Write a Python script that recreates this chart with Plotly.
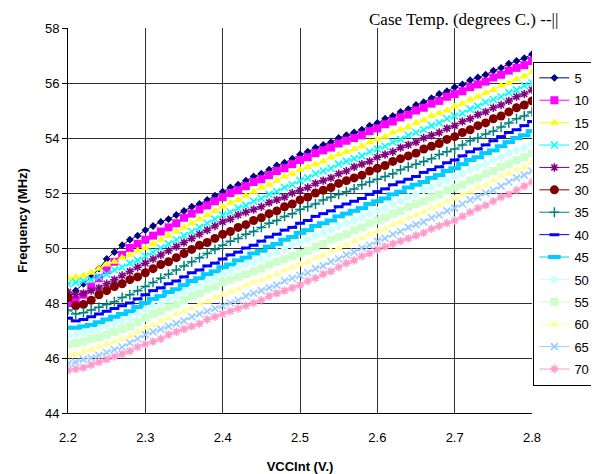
import plotly.graph_objects as go

vcc = [round(2.2 + 0.01 * i, 2) for i in range(61)]

temps = ["5", "10", "15", "20", "25", "30", "35", "40", "45", "50", "55", "60", "65", "70"]

f05 = [48.2, 48.45, 48.7, 48.95, 49.25, 49.6, 49.85, 50.1, 50.3, 50.45, 50.65,
       50.8, 50.95, 51.05, 51.2, 51.35, 51.5, 51.6, 51.75, 51.9, 52.05,
       52.2, 52.3, 52.45, 52.6, 52.7, 52.85, 53.0, 53.1, 53.25, 53.4,
       53.5, 53.65, 53.75, 53.85, 54.0, 54.1, 54.2, 54.3, 54.45, 54.55,
       54.7, 54.8, 54.95, 55.05, 55.2, 55.3, 55.45, 55.6, 55.7, 55.85,
       55.95, 56.1, 56.2, 56.3, 56.45, 56.55, 56.7, 56.8, 56.9, 57.05]
f10 = [48.0, 48.1, 48.3, 48.6, 48.9, 49.2, 49.5, 49.75, 50.0, 50.15, 50.3,
       50.45, 50.6, 50.75, 50.9, 51.1, 51.25, 51.4, 51.55, 51.7, 51.85,
       52.0, 52.1, 52.25, 52.4, 52.5, 52.65, 52.8, 52.9, 53.05, 53.2,
       53.3, 53.45, 53.55, 53.65, 53.8, 53.9, 54.0, 54.1, 54.25, 54.35,
       54.5, 54.6, 54.75, 54.85, 55.0, 55.1, 55.25, 55.35, 55.5, 55.6,
       55.7, 55.85, 55.95, 56.05, 56.2, 56.3, 56.45, 56.55, 56.65, 56.8]
f15 = [48.9, 48.95, 49.0, 49.1, 49.25, 49.4, 49.5, 49.65, 49.75, 49.9, 50.0,
       50.15, 50.3, 50.45, 50.6, 50.75, 50.9, 51.05, 51.2, 51.35, 51.5,
       51.65, 51.75, 51.9, 52.05, 52.2, 52.3, 52.45, 52.6, 52.7, 52.85,
       52.95, 53.05, 53.15, 53.3, 53.4, 53.5, 53.6, 53.7, 53.85, 53.95,
       54.05, 54.2, 54.3, 54.4, 54.55, 54.65, 54.8, 54.9, 55.0, 55.15,
       55.25, 55.4, 55.5, 55.65, 55.75, 55.9, 56.0, 56.15, 56.25, 56.4]
f20 = [48.7, 48.75, 48.8, 48.85, 48.95, 49.05, 49.2, 49.3, 49.45, 49.55, 49.7,
       49.85, 50.0, 50.15, 50.3, 50.45, 50.6, 50.75, 50.9, 51.05, 51.2,
       51.3, 51.45, 51.55, 51.7, 51.8, 51.95, 52.05, 52.2, 52.3, 52.45,
       52.55, 52.7, 52.8, 52.9, 53.05, 53.15, 53.25, 53.35, 53.5, 53.6,
       53.7, 53.85, 53.95, 54.1, 54.2, 54.3, 54.45, 54.55, 54.7, 54.8,
       54.9, 55.05, 55.15, 55.3, 55.4, 55.5, 55.65, 55.75, 55.9, 56.0]
f25 = [48.4, 48.3, 48.35, 48.45, 48.55, 48.7, 48.85, 49.0, 49.15, 49.3, 49.45,
       49.6, 49.75, 49.9, 50.05, 50.2, 50.35, 50.5, 50.65, 50.8, 50.95,
       51.05, 51.2, 51.3, 51.4, 51.5, 51.65, 51.75, 51.85, 52.0, 52.1,
       52.2, 52.35, 52.45, 52.55, 52.7, 52.8, 52.95, 53.05, 53.15, 53.3,
       53.4, 53.5, 53.65, 53.75, 53.85, 54.0, 54.1, 54.2, 54.35, 54.45,
       54.6, 54.7, 54.85, 54.95, 55.1, 55.2, 55.35, 55.5, 55.6, 55.75]
f30 = [48.2, 47.9, 47.95, 48.1, 48.3, 48.45, 48.6, 48.7, 48.85, 48.95, 49.1,
       49.25, 49.4, 49.5, 49.65, 49.8, 49.95, 50.1, 50.2, 50.35, 50.5,
       50.6, 50.75, 50.85, 51.0, 51.1, 51.25, 51.35, 51.5, 51.6, 51.75,
       51.85, 52.0, 52.1, 52.2, 52.35, 52.45, 52.55, 52.65, 52.8, 52.9,
       53.0, 53.15, 53.25, 53.35, 53.45, 53.6, 53.7, 53.8, 53.95, 54.05,
       54.2, 54.3, 54.45, 54.55, 54.7, 54.8, 54.95, 55.1, 55.2, 55.35]
f35 = [47.75, 47.6, 47.65, 47.75, 47.85, 47.95, 48.05, 48.2, 48.3, 48.45, 48.6,
       48.75, 48.9, 49.05, 49.2, 49.35, 49.5, 49.65, 49.8, 49.95, 50.1,
       50.25, 50.35, 50.5, 50.6, 50.75, 50.9, 51.0, 51.15, 51.25, 51.4,
       51.5, 51.6, 51.75, 51.85, 51.95, 52.05, 52.15, 52.3, 52.4, 52.5,
       52.6, 52.7, 52.85, 52.95, 53.05, 53.15, 53.25, 53.4, 53.5, 53.6,
       53.75, 53.9, 54.0, 54.15, 54.25, 54.4, 54.55, 54.7, 54.8, 54.95]
f40 = [47.45, 47.35, 47.4, 47.5, 47.6, 47.7, 47.8, 47.9, 48.0, 48.15, 48.3,
       48.45, 48.55, 48.7, 48.8, 48.95, 49.1, 49.2, 49.35, 49.45, 49.6,
       49.75, 49.85, 50.0, 50.1, 50.25, 50.4, 50.5, 50.65, 50.75, 50.9,
       51.0, 51.15, 51.25, 51.35, 51.5, 51.6, 51.7, 51.8, 51.95, 52.05,
       52.15, 52.3, 52.4, 52.5, 52.6, 52.75, 52.85, 52.95, 53.1, 53.2,
       53.35, 53.5, 53.6, 53.75, 53.9, 54.05, 54.2, 54.3, 54.45, 54.6]
f45 = [47.1, 47.1, 47.15, 47.2, 47.3, 47.4, 47.5, 47.6, 47.7, 47.85, 48.0,
       48.15, 48.25, 48.4, 48.5, 48.65, 48.8, 48.9, 49.05, 49.15, 49.3,
       49.4, 49.55, 49.65, 49.8, 49.9, 50.05, 50.15, 50.3, 50.4, 50.55,
       50.65, 50.8, 50.9, 51.0, 51.15, 51.25, 51.35, 51.45, 51.6, 51.7,
       51.8, 51.95, 52.05, 52.2, 52.3, 52.4, 52.55, 52.65, 52.8, 52.9,
       53.05, 53.2, 53.3, 53.45, 53.55, 53.7, 53.85, 54.0, 54.1, 54.25]
f50 = [46.8, 46.85, 46.9, 47.0, 47.05, 47.15, 47.25, 47.35, 47.45, 47.6, 47.75,
       47.9, 48.0, 48.15, 48.25, 48.4, 48.55, 48.65, 48.8, 48.9, 49.05,
       49.15, 49.3, 49.4, 49.5, 49.6, 49.75, 49.85, 49.95, 50.1, 50.2,
       50.3, 50.45, 50.55, 50.65, 50.8, 50.9, 51.0, 51.1, 51.25, 51.35,
       51.45, 51.6, 51.7, 51.85, 51.95, 52.1, 52.2, 52.35, 52.45, 52.6,
       52.7, 52.85, 52.95, 53.05, 53.2, 53.3, 53.45, 53.55, 53.65, 53.8]
f55 = [46.5, 46.55, 46.6, 46.7, 46.75, 46.85, 46.95, 47.05, 47.15, 47.3, 47.45,
       47.6, 47.7, 47.85, 47.95, 48.1, 48.25, 48.35, 48.5, 48.6, 48.75,
       48.85, 48.95, 49.05, 49.15, 49.25, 49.4, 49.5, 49.6, 49.7, 49.8,
       49.9, 50.05, 50.15, 50.3, 50.4, 50.5, 50.65, 50.75, 50.9, 51.0,
       51.1, 51.25, 51.35, 51.5, 51.6, 51.7, 51.85, 51.95, 52.1, 52.2,
       52.3, 52.45, 52.55, 52.7, 52.8, 52.95, 53.05, 53.2, 53.3, 53.45]
f60 = [46.1, 46.15, 46.25, 46.3, 46.4, 46.5, 46.6, 46.7, 46.8, 46.95, 47.1,
       47.2, 47.35, 47.45, 47.6, 47.7, 47.8, 47.95, 48.05, 48.2, 48.3,
       48.4, 48.5, 48.65, 48.75, 48.85, 48.95, 49.05, 49.2, 49.3, 49.4,
       49.5, 49.65, 49.75, 49.9, 50.0, 50.1, 50.25, 50.35, 50.5, 50.6,
       50.7, 50.85, 50.95, 51.1, 51.2, 51.3, 51.45, 51.55, 51.7, 51.8,
       51.95, 52.05, 52.2, 52.3, 52.45, 52.6, 52.7, 52.85, 52.95, 53.1]
f65 = [45.8, 45.85, 45.95, 46.0, 46.1, 46.2, 46.3, 46.4, 46.55, 46.7, 46.85,
       46.95, 47.05, 47.15, 47.25, 47.35, 47.5, 47.6, 47.7, 47.8, 47.9,
       48.0, 48.1, 48.25, 48.35, 48.45, 48.55, 48.65, 48.8, 48.9, 49.0,
       49.1, 49.25, 49.35, 49.5, 49.6, 49.75, 49.85, 50.0, 50.1, 50.25,
       50.35, 50.5, 50.6, 50.75, 50.85, 50.95, 51.1, 51.2, 51.35, 51.45,
       51.6, 51.75, 51.85, 52.0, 52.1, 52.25, 52.4, 52.55, 52.65, 52.8]
f70 = [45.55, 45.6, 45.65, 45.75, 45.85, 45.95, 46.05, 46.15, 46.25, 46.4, 46.5,
       46.6, 46.7, 46.85, 46.95, 47.05, 47.15, 47.25, 47.4, 47.5, 47.6,
       47.7, 47.8, 47.9, 48.0, 48.1, 48.25, 48.35, 48.45, 48.55, 48.65,
       48.8, 48.9, 49.05, 49.15, 49.3, 49.45, 49.55, 49.7, 49.8, 49.95,
       50.05, 50.15, 50.25, 50.35, 50.45, 50.55, 50.7, 50.8, 50.9, 51.0,
       51.15, 51.3, 51.45, 51.55, 51.7, 51.85, 51.95, 52.1, 52.25, 52.4]

series = [f05, f10, f15, f20, f25, f30, f35, f40, f45, f50, f55, f60, f65, f70]

colors = ["#000080", "#FF00FF", "#FFFF00", "#00FFFF", "#800080", "#800000", "#008080",
          "#0000FF", "#00CCFF", "#CCFFFF", "#CCFFCC", "#FFFF99", "#99CCFF", "#FF99CC"]
symbols = ["diamond", "square", "triangle-up", "x-thin-open", "asterisk-open", "circle",
           "cross-thin-open", "line-ew-open", "line-ew-open", "diamond", "square",
           "triangle-up", "x-thin-open", "asterisk-open"]
sizes = [6, 8, 8, 7, 7, 9, 7, 7, 9, 7, 8, 8, 7, 7]
mlw = [0, 0, 0, 1.5, 1.5, 0, 1.5, 3, 4, 0, 0, 0, 1.5, 1.5]

fig = go.Figure()
for i, (name, ys) in enumerate(zip(temps, series)):
    fig.add_trace(go.Scatter(
        x=vcc, y=ys, name=name, mode="lines+markers",
        legendgroup=name,
        line=dict(color=colors[i], width=1),
        marker=dict(symbol=symbols[i], size=sizes[i], color=colors[i],
                    line=dict(color=colors[i], width=mlw[i])),
    ))

# page body has an 8px margin, so the figure is sized to fit the 599x474 window
fig.update_layout(
    width=591, height=466,
    margin=dict(l=60, r=67, t=20, b=61, autoexpand=False),
    paper_bgcolor="white", plot_bgcolor="white",
    font=dict(family="Liberation Sans, Arial", size=13, color="black"),
    showlegend=True,
    legend=dict(x=1.003, y=0.912, xanchor="left", yanchor="top",
                bordercolor="black", borderwidth=1, bgcolor="white",
                font=dict(size=13), tracegroupgap=2.5, itemwidth=30),
    annotations=[dict(text="Case Temp. (degrees C.) --||", xref="paper", yref="paper",
                      x=1.06, y=1.0, xanchor="right", yanchor="bottom", yshift=-3,
                      showarrow=False,
                      font=dict(family="Liberation Serif, Times New Roman", size=17, color="black"))],
)
fig.update_xaxes(range=[2.2, 2.8], dtick=0.1, tick0=2.2, tickformat=".1f",
                 showgrid=True, gridcolor="#303030", gridwidth=1,
                 showline=True, linecolor="black", linewidth=1, mirror=False,
                 ticks="outside", ticklen=12, tickcolor="rgba(255,255,255,0)",
                 zeroline=False, automargin=False,
                 title=dict(text="<b>VCCInt (V.)</b>", font=dict(size=13), standoff=18))
fig.update_yaxes(range=[44, 58], dtick=2,
                 showgrid=True, gridcolor="#303030", gridwidth=1,
                 showline=True, linecolor="black", linewidth=1,
                 ticks="outside", ticklen=5, tickcolor="black", zeroline=False, automargin=False,
                 title=dict(text="<b>Frequency (MHz)</b>", font=dict(size=13), standoff=14))

fig.write_html("out.html")
